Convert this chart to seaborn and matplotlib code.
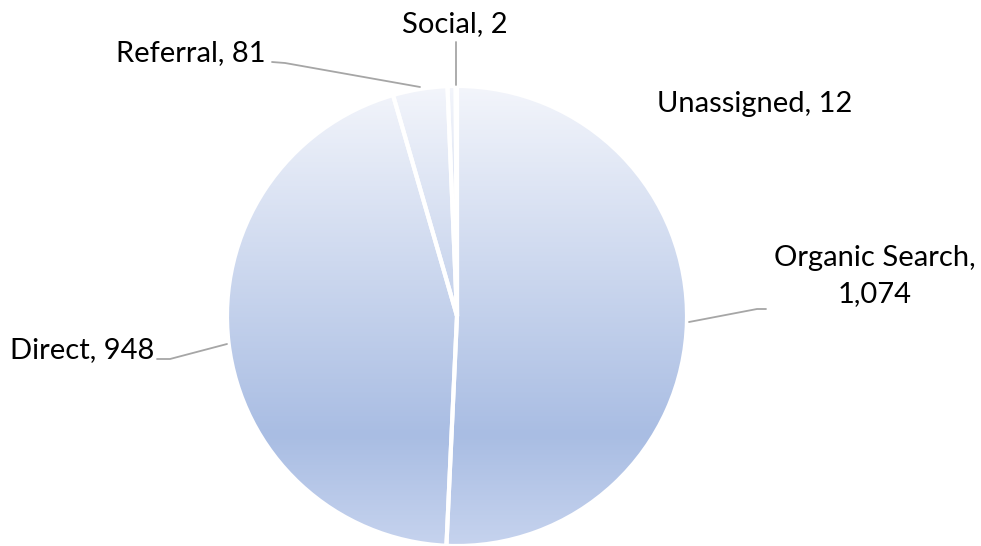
import numpy as np
import matplotlib.pyplot as plt
import seaborn as sns
from matplotlib.colors import LinearSegmentedColormap

channels = ["Organic Search", "Direct", "Referral", "Unassigned", "Social"]
sessions = [1074, 948, 81, 12, 2]
labels = ["Organic Search,\n1,074", "Direct, 948", "Referral, 81", "Unassigned, 12", "Social, 2"]

sns.set_theme(style="white")
plt.rcParams["font.family"] = ["Lato", "DejaVu Sans"]

W, H = 981, 546
cx, cy, R = 457, 316, 230

fig = plt.figure(figsize=(W / 100, H / 100), dpi=100)
ax = fig.add_axes([0, 0, 1, 1])

def px(x, y):
    return (x - cx) / R, (cy - y) / R

wedges, _ = ax.pie(sessions, startangle=90, counterclock=False, radius=1,
                   wedgeprops=dict(facecolor="none", edgecolor="white", linewidth=3))
for w in wedges:
    w.set_zorder(3)

cmap = LinearSegmentedColormap.from_list(
    "fill", [(0.0, "#f3f5fb"), (0.76, "#a9bde3"), (1.0, "#c6d3ee")])
grad = np.linspace(0, 1, 256).reshape(-1, 1)
for w in wedges:
    im = ax.imshow(grad, cmap=cmap, extent=(-1, 1, -1, 1), origin="upper",
                   aspect="auto", zorder=1, interpolation="bilinear")
    im.set_clip_path(w)

# label positions (pixel coords of text centre) and leader lines
fs = 21
text_pos = {
    "Organic Search": (875, 276),
    "Direct": (82, 350),
    "Referral": (191, 53),
    "Unassigned": (755, 104),
    "Social": (455, 24),
}
for name, lab in zip(channels, labels):
    x, y = px(*text_pos[name])
    ax.text(x, y, lab, ha="center", va="center", fontsize=fs, color="black",
            linespacing=1.45, zorder=5)

lc = "#a6a6a6"
leaders = {
    "Organic Search": [(766, 309), (757, 309), (689, 322)],
    "Direct": [(157, 359), (170, 359), (227, 344)],
    "Referral": [(272, 62), (285, 63), (420, 87)],
    "Social": [(456, 42), (456, 85)],
}
for name, pts in leaders.items():
    xs, ys = zip(*[px(*p) for p in pts])
    ax.plot(xs, ys, color=lc, linewidth=1.3, zorder=4)

ax.set_xlim(-cx / R, (W - cx) / R)
ax.set_ylim(-(H - cy) / R, cy / R)
ax.set_aspect("equal")
ax.axis("off")

fig.savefig("out.png", dpi=100)
